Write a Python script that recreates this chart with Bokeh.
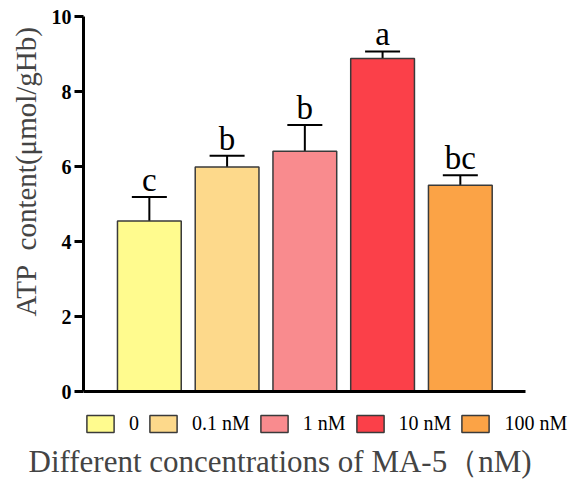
from bokeh.plotting import figure
from bokeh.models import (ColumnDataSource, Whisker, TeeHead, Legend, LegendItem,
                          Title, FixedTicker, Range1d)
from bokeh.core.properties import value
from bokeh.embed import file_html
from bokeh.resources import INLINE

# ---- data ----
groups = ["0", "0.1 nM", "1 nM", "10 nM", "100 nM"]
atp_mean = [4.55, 5.99, 6.41, 8.88, 5.50]
atp_sd = [0.64, 0.30, 0.70, 0.19, 0.27]
sig_letters = ["c", "b", "b", "a", "bc"]
bar_colors = ["#FFFB8E", "#FDD98B", "#F98B8E", "#FB4049", "#FBA346"]
y_ticks = [0, 2, 4, 6, 8, 10]

xpos = list(range(1, len(groups) + 1))
upper = [m + s for m, s in zip(atp_mean, atp_sd)]

src = ColumnDataSource(dict(x=xpos, top=atp_mean, upper=upper, color=bar_colors,
                            letter=sig_letters, label=groups))

SERIF = "Liberation Serif"

p = figure(width=571, height=481, output_backend="svg", toolbar_location=None,
           x_range=Range1d(0.153, 6.43), y_range=Range1d(-1.247, 10),
           min_border_left=82, min_border_right=0, min_border_top=16,
           min_border_bottom=41)
p.background_fill_color = "white"
p.border_fill_color = "white"
p.outline_line_color = None
p.grid.visible = False

bars = p.vbar(x="x", top="top", width=0.82, source=src, fill_color="color",
              line_color="#3a3a3a", line_width=1.5)

whisk = Whisker(base="x", lower="top", upper="upper", source=src,
                line_color="black", line_width=2,
                upper_head=TeeHead(size=35, line_color="black", line_width=2),
                lower_head=None)
p.add_layout(whisk)

p.text(x="x", y="upper", text="letter", source=src, text_align="center",
       text_baseline="bottom", y_offset=1, text_font=value(SERIF),
       text_font_size="33px", text_color="black")

# y axis
ya = p.yaxis[0]
ya.ticker = FixedTicker(ticks=y_ticks)
ya.bounds = (0, 10)
ya.minor_tick_line_color = None
ya.minor_tick_out = 0
ya.axis_line_width = 3
ya.axis_line_color = "black"
ya.major_tick_line_width = 3
ya.major_tick_out = 9
ya.major_tick_in = 0
ya.major_label_text_font = SERIF
ya.major_label_text_font_style = "bold"
ya.major_label_text_font_size = "20px"
ya.major_label_text_color = "black"
ya.major_label_standoff = 3

# x axis (baseline at y = 0, no ticks)
xa = p.xaxis[0]
xa.ticker = FixedTicker(ticks=[])
xa.fixed_location = 0
xa.bounds = (0.153, 5.835)
xa.axis_line_width = 3
xa.axis_line_color = "black"
xa.major_tick_line_color = None
xa.minor_tick_line_color = None
xa.major_tick_out = 0
xa.minor_tick_out = 0
xa.major_label_standoff = 0
xa.major_label_text_font_size = "0px"

# legend (inside the frame, under the baseline)
items = [LegendItem(label=g, renderers=[bars], index=i) for i, g in enumerate(groups)]
leg = Legend(items=items, orientation="horizontal", location=(0, 3),
             glyph_width=34, glyph_height=21, label_standoff=12, spacing=7,
             label_width=10, label_height=21,
             label_text_font=SERIF, label_text_font_size="20px",
             label_text_color="black",
             border_line_color=None, background_fill_alpha=0,
             padding=0, margin=0)
p.add_layout(leg)

ylab = Title(text="ATP\u00a0 content(\u03bcmol/gHb)", align="left", offset=122,
             text_font=SERIF, text_font_size="29px", text_font_style="normal",
             standoff=14)
p.add_layout(ylab, "left")

xlab = Title(text="Different concentrations of MA-5（nM)", align="left", offset=-55,
             vertical_align="bottom",
             text_font=SERIF, text_font_size="31px", text_font_style="normal",
             standoff=6)
p.add_layout(xlab, "below")

open("out.html", "w").write(file_html(p, INLINE))
